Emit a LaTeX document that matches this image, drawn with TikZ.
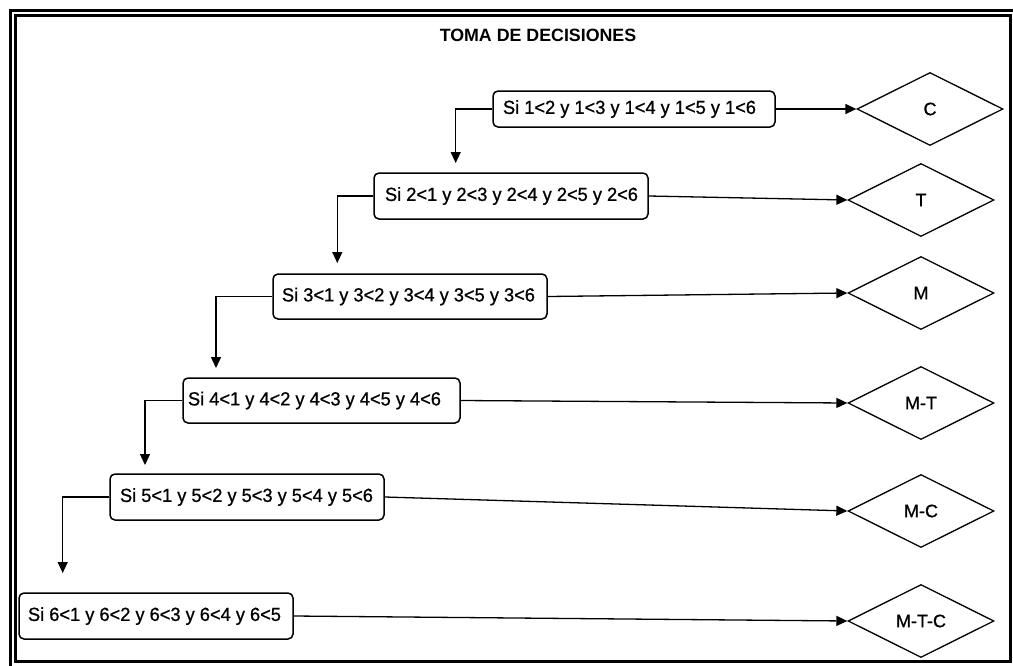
\documentclass[tikz,border=0pt]{standalone}
\usepackage{fontspec}
\setmainfont{Liberation Sans}
\newfontfamily\condfont[FakeStretch=0.96,FakeBold=0.8]{Liberation Sans}
\newfontfamily\labelfont[FakeBold=0.8]{Liberation Sans}
\usetikzlibrary{arrows.meta,shapes.geometric}
\begin{document}
\begin{tikzpicture}[x=1pt,y=-1pt,
  condbox/.style={draw,line width=1.5pt,rounded corners=5pt,minimum height=46pt,inner ysep=0pt,font=\condfont\fontsize{19}{21}\selectfont},
  result/.style={draw,shape=diamond,line width=1.3pt,minimum width=146pt,minimum height=73pt,inner sep=0pt,font=\labelfont\fontsize{18}{20}\selectfont},
  link/.style={line width=1.3pt,-{Triangle[length=11pt,width=10pt]}},
  frameline/.style={draw,line width=3pt},
]
\useasboundingbox (0,0) rectangle (1013,665);
\clip (0,0) rectangle (1013,665);
\draw[frameline] (10,10.5) rectangle (1030,680);
\draw[line width=2.5pt] (15.5,15.5) rectangle (1010.5,661.5);

\node[font=\bfseries\fontsize{17.8}{20}\selectfont] (title) at (538,35) {TOMA DE DECISIONES};

\node[condbox, inner xsep=10pt, minimum height=36pt] (b1) at (634,109) {\makebox[262pt][l]{Si 1<2 y 1<3 y 1<4 y 1<5 y 1<6}};
\node[condbox, inner xsep=11pt] (b2) at (511,196) {\makebox[252pt][l]{Si 2<1 y 2<3 y 2<4 y 2<5 y 2<6}};
\node[condbox, inner xsep=9pt, minimum height=45pt] (b3) at (410,296.5) {\makebox[256pt][l]{Si 3<1 y 3<2 y 3<4 y 3<5 y 3<6}};
\node[condbox, inner xsep=5pt, minimum height=45pt] (b4) at (321.5,400.5) {\makebox[267pt][l]{Si 4<1 y 4<2 y 4<3 y 4<5 y 4<6}};
\node[condbox, inner xsep=10pt] (b5) at (247,497) {\makebox[254pt][l]{Si 5<1 y 5<2 y 5<3 y 5<4 y 5<6}};
\node[condbox, inner xsep=9pt] (b6) at (156,616) {\makebox[256pt][l]{Si 6<1 y 6<2 y 6<3 y 6<4 y 6<5}};

\node[result] (d1) at (930,109) {C};
\node[result] (d2) at (921,200) {T};
\node[result] (d3) at (921,293) {M};
\node[result] (d4) at (921,403) {M-T};
\node[result] (d5) at (921,511) {M-C};
\node[result] (d6) at (921,621) {M-T-C};

\draw[link] (b1.east) -- (d1.west);
\draw[link] (b2.east) -- (d2.west);
\draw[link] (b3.east) -- (d3.west);
\draw[link] (b4.east) -- (d4.west);
\draw[link] (b5.east) -- (d5.west);
\draw[link] (b6.east) -- (d6.west);

\coordinate (t2) at (455.7,163);
\coordinate (t3) at (337.3,263);
\coordinate (t4) at (216,368);
\coordinate (t5) at (145,465);
\coordinate (t6) at (62.7,573);

\draw[link] (b1.west) -| (t2);
\draw[link] (b2.west) -| (t3);
\draw[link] (b3.west) -| (t4);
\draw[link] (b4.west) -| (t5);
\draw[link] (b5.west) -| (t6);
\end{tikzpicture}
\end{document}
